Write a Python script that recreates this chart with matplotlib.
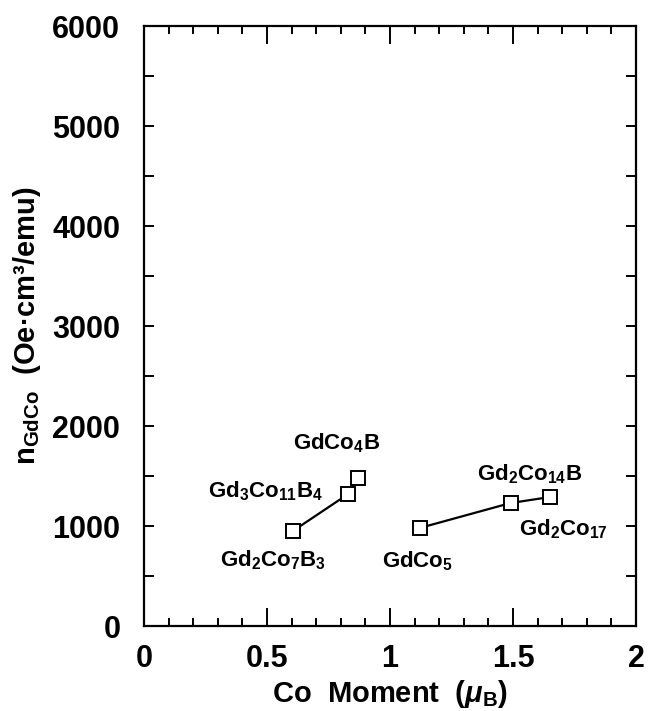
import matplotlib
matplotlib.use("Agg")
import matplotlib.pyplot as plt
from matplotlib.ticker import MultipleLocator, FuncFormatter

plt.rcParams['font.family'] = ['Liberation Sans', 'DejaVu Sans']
plt.rcParams['font.weight'] = 'bold'
plt.rcParams['axes.labelweight'] = 'bold'
plt.rcParams['mathtext.fontset'] = 'custom'
plt.rcParams['mathtext.rm'] = 'Liberation Sans:bold'
plt.rcParams['mathtext.bf'] = 'Liberation Sans:bold'
plt.rcParams['mathtext.it'] = 'Liberation Sans:bold:italic'

# series 1: borides
boride_names = [r'$\mathrm{Gd_2Co_7B_3}$', r'$\mathrm{Gd_3Co_{11}B_4}$', r'$\mathrm{GdCo_4B}$']
boride_moment = [0.605, 0.83, 0.87]
boride_n = [950, 1320, 1480]

# series 2: GdCo5 family
gdco_names = [r'$\mathrm{GdCo_5}$', r'$\mathrm{Gd_2Co_{14}B}$', r'$\mathrm{Gd_2Co_{17}}$']
gdco_moment = [1.12, 1.49, 1.65]
gdco_n = [980, 1230, 1290]

# label offsets (pixels) from each point
boride_offsets = [(-20, -29), (-83, 3), (-21, 35)]
gdco_offsets = [(-2, -33), (19, 29), (13, -32)]

fig = plt.figure(figsize=(6.48, 7.11), dpi=100)
ax = fig.add_axes([0.2222, 0.1195, 0.7593, 0.8439])

for xs, ys, names, offs in [(boride_moment, boride_n, boride_names, boride_offsets),
                            (gdco_moment, gdco_n, gdco_names, gdco_offsets)]:
    ax.plot(xs, ys, color='black', lw=1.6, marker='s', markersize=10,
            markerfacecolor='white', markeredgecolor='black', markeredgewidth=1.4)
    for x, y, name, (dx, dy) in zip(xs, ys, names, offs):
        ax.annotate(name, (x, y), xytext=(dx, dy), textcoords='offset pixels',
                    ha='center', va='center', fontsize=16)

ax.set_xlim(0, 2)
ax.set_ylim(0, 6000)
ax.xaxis.set_major_locator(MultipleLocator(0.5))
ax.xaxis.set_minor_locator(MultipleLocator(0.1))
ax.yaxis.set_major_locator(MultipleLocator(1000))
ax.yaxis.set_minor_locator(MultipleLocator(500))
ax.xaxis.set_major_formatter(FuncFormatter(lambda v, p: '%g' % v))
ax.tick_params(which='both', direction='in', top=True, right=True, width=1.4)
ax.tick_params(axis='x', which='major', length=13, labelsize=22, pad=13)
ax.tick_params(axis='x', which='minor', length=6)
ax.tick_params(axis='y', which='both', length=7, labelsize=22, pad=17)
for s in ax.spines.values():
    s.set_linewidth(1.6)
for lab in ax.get_xticklabels() + ax.get_yticklabels():
    lab.set_fontweight('bold')

ax.set_xlabel(r'Co  Moment  ($\mathit{\mu}_\mathrm{B}$)', fontsize=21, fontweight='bold')
ax.set_ylabel(r'$\mathrm{n_{GdCo}}$  (Oe·cm³/emu)', fontsize=21, fontweight='bold')
ax.xaxis.set_label_coords(0.5, -0.086)
ax.yaxis.set_label_coords(-0.205, 0.5)

fig.savefig('out.png', dpi=100)
